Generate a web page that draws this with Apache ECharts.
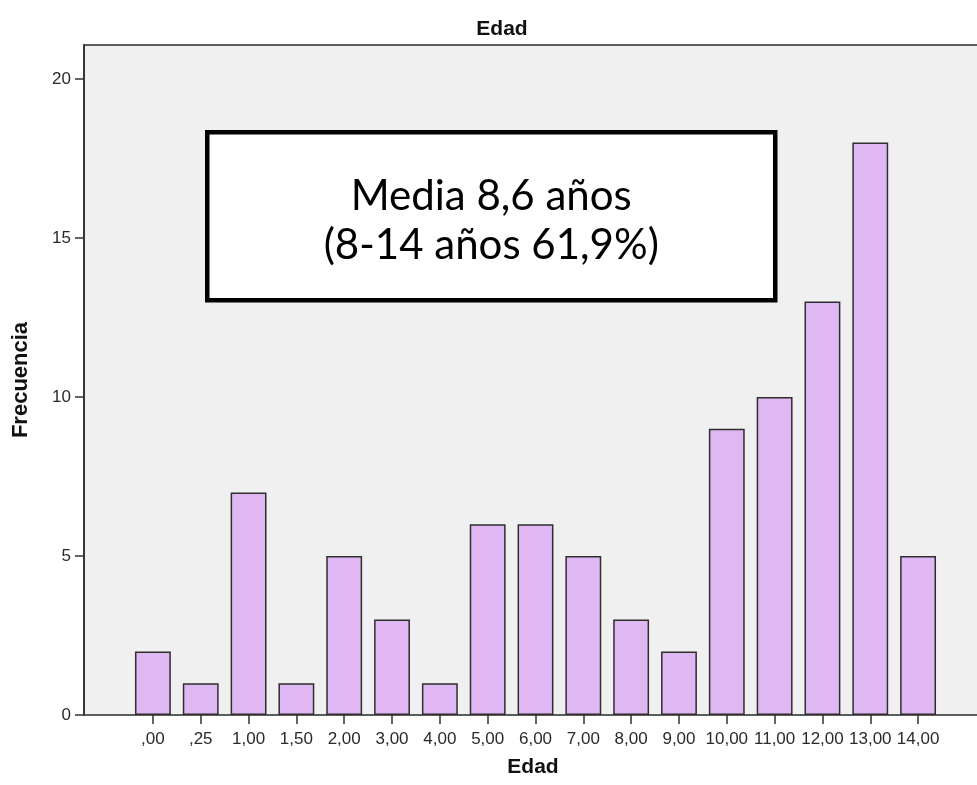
<!DOCTYPE html>
<html>
<head>
<meta charset="utf-8">
<script src="https://cdn.jsdelivr.net/npm/echarts@6/dist/echarts.min.js"></script>
<style>html,body{margin:0;padding:0;background:#fff}#c{width:977px;height:785px}</style>
</head>
<body>
<div id="c"></div>
<script>
var categories = [',00', ',25', '1,00', '1,50', '2,00', '3,00', '4,00', '5,00', '6,00', '7,00', '8,00', '9,00', '10,00', '11,00', '12,00', '13,00', '14,00'];
var frequencies = [2, 1, 7, 1, 5, 3, 1, 6, 6, 5, 3, 2, 9, 10, 13, 18, 5];
var yTicks = [0, 5, 10, 15, 20];
var titleText = 'Edad';
var xName = 'Edad';
var yName = 'Frecuencia';
var noteLines = ['Media 8,6 años', '(8-14 años 61,9%)'];

var yMax = 21.07;
var font = 'Liberation Sans, Arial, sans-serif';
var chart = echarts.init(document.getElementById('c'), null, {renderer: 'canvas'});
chart.setOption({
  animation: false,
  backgroundColor: '#ffffff',
  title: {
    text: titleText, left: 497, top: 14, textAlign: 'center',
    textStyle: {fontFamily: font, fontWeight: 'bold', fontSize: 21, color: '#111'}
  },
  grid: [
    {left: 84, right: -5, top: 45, bottom: 70, show: true, backgroundColor: '#f0f0f0', borderColor: '#2a2a2a', borderWidth: 1.5, containLabel: false, outerBoundsMode: 'none'},
    {left: 129, right: 35, top: 45, bottom: 70, containLabel: false, outerBoundsMode: 'none'}
  ],
  xAxis: [
    {gridIndex: 0, type: 'value', min: 0, max: 1, axisLine: {show: false}, axisTick: {show: false}, axisLabel: {show: false}, splitLine: {show: false},
      name: xName, nameLocation: 'middle', nameGap: 42, nameTextStyle: {fontFamily: font, fontWeight: 'bold', fontSize: 21, color: '#111'}},
    {gridIndex: 1, type: 'category', data: categories, axisLine: {show: false},
      axisTick: {show: true, alignWithLabel: true, interval: 0, length: 9, lineStyle: {color: '#333', width: 1.5}},
      axisLabel: {margin: 16, interval: 0, hideOverlap: false, fontFamily: font, fontSize: 17, color: '#2a2a2a'}}
  ],
  yAxis: [
    {gridIndex: 0, type: 'value', min: 0, max: yMax, interval: 5,
      axisLine: {show: true, lineStyle: {color: '#2a2a2a', width: 1.5}},
      axisTick: {show: true, length: 9, customValues: yTicks, lineStyle: {color: '#333', width: 1.5}},
      axisLabel: {margin: 13, customValues: yTicks, fontFamily: font, fontSize: 17, color: '#2a2a2a'},
      splitLine: {show: false},
      name: yName, nameLocation: 'middle', nameGap: 52, nameRotate: 90,
      nameTextStyle: {fontFamily: font, fontWeight: 'bold', fontSize: 22, color: '#111'}},
    {gridIndex: 1, type: 'value', min: 0, max: yMax, show: false}
  ],
  series: [{
    type: 'bar', xAxisIndex: 1, yAxisIndex: 1, data: frequencies, barCategoryGap: '25%',
    itemStyle: {color: '#dfb8f3', borderColor: '#2e2e2e', borderWidth: 1.5}
  }],
  graphic: [{
    type: 'group', left: 205, top: 130,
    children: [
      {type: 'rect', shape: {x: 0, y: 0, width: 568, height: 168}, style: {fill: '#ffffff', stroke: '#000', lineWidth: 4.5}},
      {type: 'text', style: {x: 284, y: 64, text: noteLines[0], textAlign: 'center', textVerticalAlign: 'middle', font: '42px Lato, "Open Sans", sans-serif', fill: '#000'}},
      {type: 'text', style: {x: 284, y: 113, text: noteLines[1], textAlign: 'center', textVerticalAlign: 'middle', font: '42px Lato, "Open Sans", sans-serif', fill: '#000'}}
    ]
  }]
});
</script>
</body>
</html>
